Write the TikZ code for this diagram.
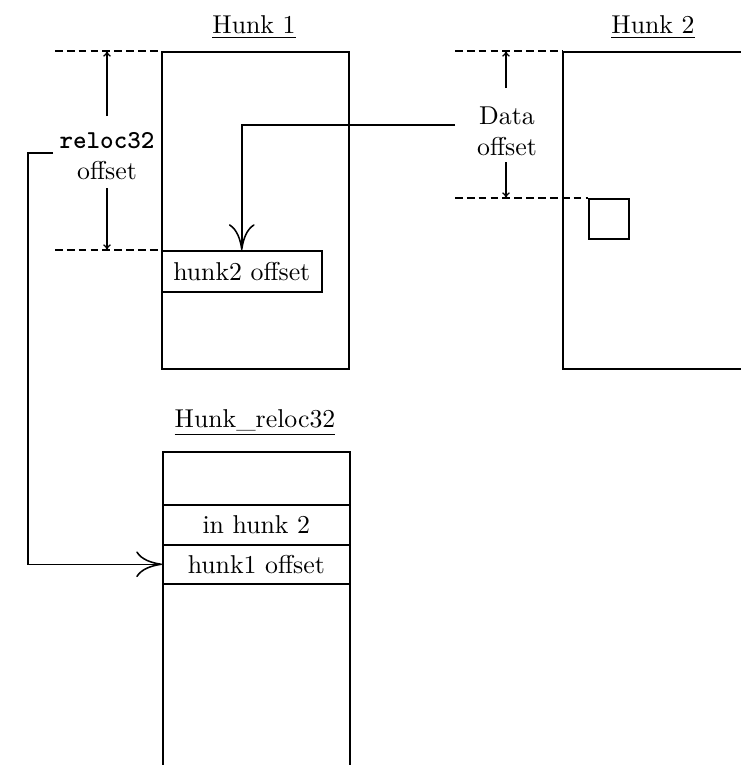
\documentclass[tikz,border=0pt]{standalone}
\usetikzlibrary{arrows.meta}
\def\pu{0.3876pt}
\begin{document}
\begin{tikzpicture}[x=0.3876pt,y=-0.3876pt,line width=0.6pt,
  blk/.style={draw,rectangle,inner sep=0pt,anchor=north west},
  ttl/.style={inner sep=0pt},
  dimlbl/.style={align=center,inner sep=0pt},
  dsh/.style={line width=0.5pt,dash pattern=on 3pt off 1.6pt},
  dimarr/.style={line width=0.5pt,-{To[length=2.2pt,width=3pt]}},
  bigarr/.style={-{Computer Modern Rightarrow[length=10pt,width=10pt]}}]
\useasboundingbox (0,0) rectangle (741,765);
% titles
\node[ttl] (t1) at (254,27) {\underline{Hunk 1}};
\node[ttl] (t2) at (653,27) {\underline{Hunk 2}};
\node[ttl] (t3) at (255,423) {\underline{Hunk\_reloc32}};
% hunk 1
\node[blk,minimum width=187*\pu,minimum height=317*\pu] (h1) at (161,51) {};
\node[blk,minimum width=160*\pu,minimum height=41*\pu] (h2off) at (161,250) {hunk2 offset};
% hunk 2
\node[blk,minimum width=179*\pu,minimum height=317*\pu] (h2) at (562,51) {};
\node[blk,minimum width=40*\pu,minimum height=40*\pu] (sq) at (588,198) {};
% reloc hunk
\node[blk,minimum width=187*\pu,minimum height=340*\pu] (rel) at (162,451) {};
\node[blk,minimum width=187*\pu,minimum height=40*\pu] (r2) at (162,504) {in hunk 2};
\node[blk,minimum width=187*\pu,minimum height=39*\pu] (r3) at (162,544) {hunk1 offset};
% labels
\node[dimlbl] (rl) at (107,156) {{\ttfamily\bfseries reloc32}\\offset};
\node[dimlbl] (dl) at (507,131) {Data\\offset};
% dashed guide lines
\coordinate (a1) at (55,51); \coordinate (a2) at (55,250);
\coordinate (b1) at (455,51); \coordinate (b2) at (455,198);
\draw[dsh] (a1) -- (h1.north west);
\draw[dsh] (a2) -- (h2off.north west);
\draw[dsh] (b1) -- (h2.north west);
\draw[dsh] (b2) -- (sq.north west);
% dimension arrows
\coordinate (ra) at (107,116); \coordinate (rb) at (107,188);
\coordinate (da) at (506,88); \coordinate (db) at (506,162);
\draw[dimarr] (ra) -- (107,51);
\draw[dimarr] (rb) -- (107,250);
\draw[dimarr] (da) -- (506,51);
\draw[dimarr] (db) -- (506,198);
% connectors
\coordinate (c1) at (455,125);
\draw[bigarr] (c1) -| (h2off.north);
\coordinate (c2) at (53,153);
\draw[bigarr] (c2) -- (28,153) |- (r3.west);
\end{tikzpicture}
\end{document}
